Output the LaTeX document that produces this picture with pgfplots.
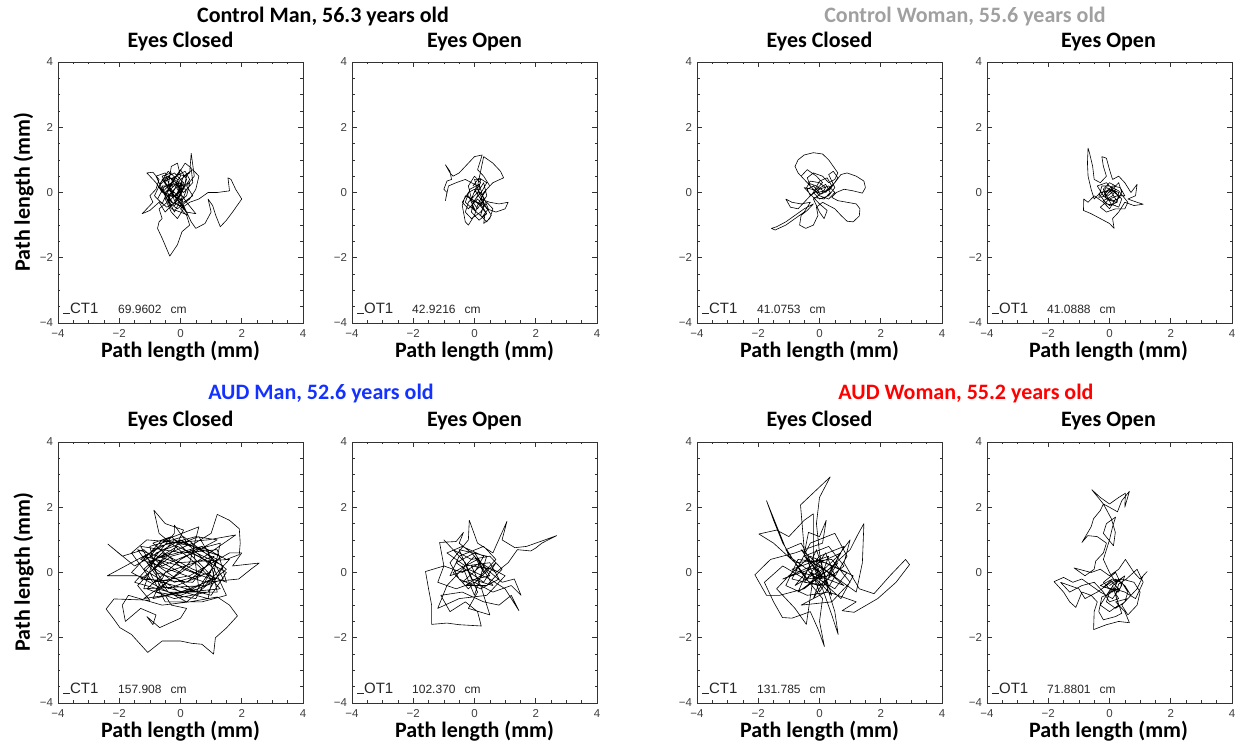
\documentclass[border=0pt]{standalone}
\usepackage{fontspec}
\setmainfont{Carlito}
\newfontfamily\tickfont{Liberation Sans}
\usepackage{pgfplots}
\pgfplotsset{compat=1.18}
\definecolor{ttgray}{RGB}{160,160,160}
\definecolor{ttblue}{RGB}{20,50,255}
\definecolor{ttred}{RGB}{255,0,0}
\pgfplotsset{panel/.style={
  scale only axis, width=245pt, height=261pt, anchor=south west,
  xmin=-4, xmax=4, ymin=-4, ymax=4,
  xtick={-4,-2,0,2,4}, ytick={-4,-2,0,2,4},
  xticklabels={−4,−2,0,2,4}, yticklabels={−4,−2,0,2,4},
  minor tick num=3, tick align=inside,
  major tick length=5pt, minor tick length=2.5pt,
  axis line style={line width=0.9pt, black!80},
  every tick/.style={black!80, line width=0.6pt},
  tick label style={font=\tickfont\fontsize{11.5}{11.5}\selectfont, text=black!75},
  xticklabel style={yshift=-3pt},
  yticklabel style={xshift=-1.5pt},
},
trace/.style={black, line width=0.6pt, no marks, line join=round},
}
\newcommand{\leg}[2]{%
  \node[anchor=base west, font=\tickfont\fontsize{15}{15}\selectfont, text=black!85, inner sep=0pt] at (axis cs:-3.84,-3.72) {\rule{7pt}{0.6pt}#1};
  \node[anchor=base west, font=\tickfont\fontsize{12}{12}\selectfont, text=black!85, inner sep=0pt] at (axis cs:-2.04,-3.72) {#2\hspace{9pt}cm};}
\begin{document}
\begin{tikzpicture}
\path[use as bounding box] (0,0) rectangle (1235pt,747pt);
% ---------------- Panel 1: Control Man, Eyes Closed
\begin{axis}[panel, at={(58pt,424pt)}]
\addplot[trace] coordinates {
(-0.2,0.0) (-0.5,0.3) (-0.3,0.6) (-0.6,0.5) (-0.4,0.1) (-0.1,-0.2) (0.1,0.2) (-0.2,0.4) (-0.5,-0.1) (-0.3,-0.4) (0.0,-0.1) (0.2,0.4) (0.0,0.7) (-0.3,0.3) (-0.6,0.0) (-0.8,0.3) (-1.1,0.6) (-0.9,0.62) (-0.7,0.4) (-0.8,0.1) (-1.0,-0.1) (-0.9,-0.3) (-1.25,-0.65) (-1.0,-0.55) (-0.7,-0.3) (-0.5,-0.6) (-0.2,-0.3) (0.1,-0.5) (-0.1,-0.8) (-0.3,-0.6) (-0.5,-0.2) (-0.2,0.1) (0.0,0.4) (0.3,0.6) (0.35,1.2) (0.45,0.5) (0.2,0.2) (0.4,-0.1) (0.1,-0.3) (-0.2,-0.1) (-0.4,0.2) (-0.3,0.8) (-0.1,0.9) (0.0,0.5) (-0.2,0.2) (-0.6,0.2) (-0.4,-0.3) (-0.1,-0.5) (0.3,-0.2) (0.5,0.1) (0.6,0.5) (0.4,0.7) (0.1,0.5) (-0.1,0.0) (-0.3,-0.2) (-0.7,-0.5) (-0.6,-0.8) (-0.7,-0.9) (-0.75,-1.1) (-0.6,-1.4) (-0.35,-1.95) (-0.1,-1.6) (0.05,-1.2) (0.3,-1.0) (0.2,-0.7) (0.0,-0.5) (0.3,-0.3) (0.6,-0.2) (0.9,0.0) (1.2,0.0) (1.6,0.05) (1.55,0.45) (1.65,0.4) (1.8,0.1) (2.0,-0.2) (1.7,-0.6) (1.5,-0.85) (1.3,-1.05) (1.15,-0.7) (1.05,-0.4) (0.9,-0.2) (1.0,-0.6) (0.8,-0.95) (0.5,-1.1) (0.35,-0.9) (0.2,-0.6) (0.0,-0.3) (-0.3,0.0) (-0.6,0.4) (-0.2,0.6) (0.1,0.3) (-0.1,-0.1) (-0.4,-0.1) (-0.2,-0.4) (0.2,-0.1) (0.3,0.3) (0.0,0.2) (-0.4,0.5) (-0.7,0.2) (-0.5,-0.1) (-0.2,0.0) (0.0,-0.2) (0.2,-0.6) (0.5,-0.65) (0.2,-0.3) (-0.1,0.1) (-0.3,0.4) (-0.05,0.55) (0.2,0.5) (0.1,0.1) (-0.25,-0.15) (-0.45,0.0) (-0.15,0.25) (0.05,0.0) (-0.2,-0.25)
(-0.5,0.6) (-0.8,0.5) (-0.6,0.1) (-0.3,-0.5) (0.0,-0.6) (0.25,-0.7) (0.0,-0.35) (-0.35,0.05) (-0.55,0.35) (-0.25,0.45) (0.15,0.65) (0.3,0.4) (0.05,0.05) (-0.15,-0.3) (-0.45,-0.45) (-0.75,-0.2) (-0.55,0.15) (-0.2,0.35) (0.1,0.0) (0.4,0.3) (0.35,0.75) (0.15,0.9) (-0.05,0.6) (-0.35,0.2) (-0.6,-0.35) (-0.85,-0.1) (-0.65,0.3) (-0.4,0.65) (-0.1,0.4) (0.05,-0.15) (-0.2,-0.6) (-0.4,-0.2) (-0.15,0.15) (0.2,0.1) (0.0,-0.4) (-0.3,-0.3) (-0.5,0.0) (-0.25,0.25) (0.05,0.3) (-0.1,-0.05)
};
\leg{CT1}{69.9602}
\end{axis}
% ---------------- Panel 2: Control Man, Eyes Open
\begin{axis}[panel, at={(352pt,424pt)}]
\addplot[trace] coordinates {
(0.0,0.0) (0.2,0.3) (0.0,0.5) (-0.2,0.2) (-0.1,-0.2) (0.2,-0.4) (0.4,-0.1) (0.3,0.3) (0.1,0.0) (-0.2,-0.3) (-0.3,-0.6) (-0.1,-0.8) (0.2,-0.6) (0.4,-0.3) (0.6,-0.5) (0.5,-0.8) (0.3,-0.95) (0.35,-0.6) (0.1,-0.3) (-0.3,-0.1) (-0.4,-0.4) (-0.3,-0.9) (-0.2,-1.0) (0.0,-0.7) (0.1,-0.4) (0.3,0.0) (0.5,0.2) (0.3,0.5) (0.1,0.7) (0.2,1.0) (0.25,1.15) (0.0,1.1) (-0.3,0.8) (-0.5,0.6) (-0.7,0.5) (-0.8,0.6) (-0.95,0.85) (-0.8,0.65) (-0.75,0.4) (-0.9,0.35) (-1.0,0.1) (-0.9,0.0) (-0.95,-0.25) (-0.85,0.2) (-0.6,0.3) (-0.3,0.4) (-0.1,0.3) (0.1,0.2) (0.3,1.1) (0.6,0.9) (0.85,0.65) (0.95,0.45) (0.6,0.3) (0.4,0.1) (0.2,-0.2) (0.5,-0.3) (0.8,-0.35) (1.1,-0.3) (1.0,-0.5) (0.7,-0.6) (0.4,-0.5) (0.2,-0.2) (0.0,0.1) (-0.2,0.0) (-0.4,-0.3) (-0.2,-0.5) (0.1,-0.2) (0.3,-0.4) (0.2,-0.7) (0.4,-0.9) (0.55,-0.7) (0.35,-0.4) (0.1,0.1) (0.0,0.4) (0.2,0.4) (0.1,-0.1) (-0.1,-0.4) (0.05,-0.6)
(-0.2,-0.1) (0.1,-0.5) (0.3,-0.2) (0.15,0.25) (-0.15,0.1) (-0.3,-0.3) (0.0,-0.55) (0.25,-0.75) (0.45,-0.5) (0.3,-0.15) (0.05,0.15) (-0.1,-0.2) (0.2,-0.35) (0.4,-0.65) (0.15,-0.85) (-0.1,-0.6) (-0.05,-0.3) (0.25,0.05) (0.4,0.3) (0.15,0.45) (-0.05,0.2)
};
\leg{OT1}{42.9216}
\end{axis}
% ---------------- Panel 3: Control Woman, Eyes Closed
\begin{axis}[panel, at={(697pt,424pt)}]
\addplot[trace] coordinates {
(0.0,0.0) (-0.2,0.2) (-0.4,0.1) (-0.3,-0.1) (0.0,0.1) (0.3,0.2) (0.5,0.0) (0.3,-0.2) (0.0,-0.1) (-0.3,0.2) (-0.5,0.4) (-0.7,0.6) (-0.8,0.8) (-0.7,1.0) (-0.5,1.15) (-0.2,1.22) (0.1,1.18) (0.3,1.0) (0.45,0.8) (0.6,0.6) (0.5,0.4) (0.3,0.3) (0.1,0.5) (-0.2,0.6) (-0.4,0.45) (-0.3,0.2) (-0.1,0.0) (0.2,0.05) (0.5,0.3) (0.7,0.55) (0.9,0.6) (1.2,0.5) (1.45,0.35) (1.5,0.15) (1.4,-0.02) (1.1,0.05) (0.8,0.1) (0.55,0.0) (0.4,-0.15) (0.6,-0.25) (0.9,-0.3) (1.2,-0.35) (1.32,-0.5) (1.3,-0.72) (1.1,-0.9) (0.9,-0.88) (0.7,-0.7) (0.5,-0.5) (0.3,-0.4) (0.1,-0.3) (-0.1,-0.45) (-0.05,-0.7) (-0.2,-1.0) (-0.45,-1.1) (-0.65,-1.0) (-0.6,-0.7) (-0.4,-0.55) (-0.2,-0.35) (-0.5,-0.5) (-0.8,-0.7) (-1.1,-0.9) (-1.4,-1.05) (-1.57,-1.1) (-1.45,-1.15) (-1.1,-1.0) (-0.8,-0.8) (-0.5,-0.6) (-0.3,-0.3) (-0.6,-0.35) (-0.9,-0.3) (-1.1,-0.2) (-0.95,-0.45) (-0.7,-0.5) (-0.4,-0.2) (-0.1,0.1) (0.1,0.3) (-0.1,0.5) (-0.4,0.7) (-0.6,0.5) (-0.4,0.3) (-0.1,0.2) (0.2,0.0) (0.4,0.2) (0.25,0.45) (0.0,0.35) (-0.2,0.0) (0.0,-0.2) (0.3,-0.1) (0.5,0.15) (0.3,0.55) (0.45,0.65) (0.6,0.45) (0.35,0.1) (0.05,-0.05) (-0.25,0.1) (-0.5,0.15) (-0.3,-0.05) (0.0,-0.35) (0.25,-0.55) (0.15,-0.8) (0.0,-0.6) (-0.2,-0.2) (0.1,0.0)
(0.2,0.15) (0.0,0.3) (-0.3,0.35) (-0.45,0.1) (-0.2,-0.15) (0.15,-0.2) (0.35,0.0) (0.2,0.25) (-0.05,0.1)
};
\leg{CT1}{41.0753}
\end{axis}
% ---------------- Panel 4: Control Woman, Eyes Open
\begin{axis}[panel, at={(987pt,424pt)}]
\addplot[trace] coordinates {
(0.0,0.0) (0.2,0.2) (0.0,0.3) (-0.2,0.1) (-0.1,-0.2) (0.2,-0.3) (0.4,0.0) (0.3,0.3) (0.1,0.1) (-0.3,0.0) (-0.5,-0.2) (-0.6,0.1) (-0.7,0.5) (-0.72,0.9) (-0.7,1.36) (-0.65,1.2) (-0.55,0.8) (-0.5,0.4) (-0.3,0.3) (-0.1,0.5) (-0.2,0.8) (-0.25,1.1) (-0.1,1.05) (0.0,0.7) (0.1,0.4) (0.3,0.5) (0.5,0.3) (0.7,0.0) (0.9,0.25) (0.85,-0.1) (0.6,-0.2) (0.9,-0.3) (1.1,-0.36) (0.8,-0.4) (0.5,-0.3) (0.3,-0.6) (0.1,-0.8) (0.15,-1.1) (0.0,-0.95) (-0.3,-0.8) (-0.6,-0.65) (-0.85,-0.55) (-0.84,-0.2) (-0.7,-0.3) (-0.5,-0.1) (-0.2,-0.3) (0.0,-0.5) (0.2,-0.2) (0.0,0.1) (-0.2,-0.1) (-0.4,0.2) (-0.1,0.3) (0.2,0.0) (0.4,-0.2) (0.3,-0.45) (0.05,-0.35) (-0.15,0.0) (0.1,0.2) (0.35,0.15) (0.5,-0.1) (0.25,-0.1) (0.0,-0.2) (-0.3,-0.45) (-0.1,-0.6) (0.2,-0.5) (0.5,-0.5) (0.6,-0.3) (0.3,0.05) (0.0,0.2) (-0.25,0.2) (-0.35,-0.15) (-0.05,-0.1) (0.2,0.1)
(0.1,-0.1) (-0.2,-0.25) (0.0,-0.4) (0.25,-0.3) (0.3,0.0) (0.05,0.1) (-0.15,-0.15) (0.15,-0.25) (0.35,-0.15) (0.1,0.05) (-0.1,0.15) (-0.3,-0.1) (-0.1,-0.35) (0.2,-0.4)
};
\leg{OT1}{41.0888}
\end{axis}
% ---------------- Panel 5: AUD Man, Eyes Closed
\begin{axis}[panel, at={(58pt,44pt)}]
\addplot[trace] coordinates {
(0.0,0.0) (-1.0,0.5) (-0.5,1.0) (0.6,1.4) (0.3,0.3) (-0.8,-0.6) (0.5,-0.8) (1.2,0.4) (0.0,1.0) (-1.5,0.2) (-2.37,0.87) (-1.9,0.5) (-1.2,0.7) (-0.6,0.2) (0.4,0.6) (1.5,0.0) (1.0,-0.7) (-0.2,-0.4) (-1.4,-0.1) (-2.39,-0.1) (-1.6,0.3) (-0.4,0.9) (0.9,1.0) (1.8,1.15) (0.8,0.5) (-0.3,-0.2) (-1.2,-0.8) (0.2,-0.6) (1.3,-0.5) (0.6,0.2) (-0.7,1.2) (-0.87,1.91) (-0.5,1.5) (0.1,1.3) (-0.2,0.7) (-1.0,0.0) (-0.5,-0.9) (0.7,-0.9) (1.5,-0.7) (1.1,0.1) (0.2,0.9) (-1.1,1.0) (-1.6,0.6) (-0.9,-0.3) (0.3,-0.1) (1.6,0.6) (2.0,0.6) (1.7,0.2) (2.57,0.29) (2.3,0.1) (1.9,-0.2) (0.8,-0.3) (-0.4,0.1) (-1.3,0.4) (-0.7,0.8) (0.5,1.1) (1.2,1.0) (0.0,0.4) (-1.1,-0.5) (-0.2,-0.8) (0.9,-0.6) (1.4,0.2) (0.3,0.7) (-0.9,0.4) (-0.2,1.2) (-0.2,1.45) (0.3,0.8) (1.0,1.2) (1.2,1.78) (1.6,1.6) (1.92,1.34) (1.95,0.9) (1.92,0.55) (1.5,0.4) (0.7,0.8) (-0.5,0.5) (-1.4,-0.4) (-1.0,-0.85) (-2.17,-0.81) (-2.43,-1.12) (-2.2,-1.4) (-1.98,-1.69) (-1.6,-1.9) (-1.07,-2.45) (-0.6,-2.1) (0.0,-2.1) (0.36,-2.17) (0.7,-2.2) (1.08,-2.5) (1.14,-2.0) (1.5,-1.7) (1.86,-1.33) (1.6,-1.0) (1.2,-0.75) (0.3,-0.9) (-0.6,-1.0) (-1.7,-0.7) (-1.9,-1.0) (-1.8,-1.5) (-1.3,-1.1) (-0.8,-1.3) (-0.9,-1.6) (-1.1,-1.35) (-0.68,-1.69) (0.0,-1.4) (0.2,-1.1) (-0.3,-1.0) (-0.5,-0.7) (0.4,-0.5) (1.0,-0.2) (0.1,0.1) (-0.9,0.9) (-0.3,1.1) (0.6,0.3) (1.1,-0.2) (0.0,-0.6) (-1.2,0.1) (-0.6,0.6) (0.4,0.1) (1.5,-0.3) (1.2,0.7) (0.1,0.6) (-1.3,0.8) (-0.8,0.0) (0.2,-0.3) (1.0,0.3) (-0.1,0.8) (-1.0,0.3) (-0.4,-0.5) (0.7,-0.1) (0.0,0.2)
(-1.2,0.5) (0.5,-0.6) (1.3,0.5) (-0.2,1.0) (-1.5,-0.3) (0.0,-0.7) (1.4,-0.2) (0.6,1.1) (-0.8,0.6) (-1.2,-0.5) (0.8,-0.4) (1.6,0.4) (-0.1,0.3) (-1.4,0.7) (-0.4,-0.6) (1.2,-0.6) (0.9,0.7) (-0.6,1.0) (-1.6,0.0) (0.2,-0.9) (1.5,0.1) (0.1,1.1) (-1.0,0.8) (-0.7,-0.4) (0.9,-0.8) (1.3,0.9) (-0.3,0.5) (-1.3,-0.2) (0.4,-0.3) (1.1,0.5) (-0.5,0.0) (-0.9,-0.8) (0.6,-0.5) (0.4,0.9) (-1.1,0.3) (-0.2,-0.3) (1.0,0.0)
};
\leg{CT1}{157.908}
\end{axis}
% ---------------- Panel 6: AUD Man, Eyes Open
\begin{axis}[panel, at={(352pt,44pt)}]
\addplot[trace] coordinates {
(0.0,0.0) (0.3,0.5) (-0.4,0.8) (-0.9,0.6) (-0.3,0.2) (0.5,0.3) (0.8,-0.2) (0.2,-0.5) (-0.5,-0.2) (-0.8,0.3) (-0.2,1.0) (-0.17,1.6) (0.1,0.9) (0.6,0.6) (1.06,1.57) (0.9,1.0) (1.32,0.76) (1.7,0.8) (2.0,0.9) (2.3,1.0) (2.68,1.13) (2.2,0.9) (2.0,0.75) (1.84,0.66) (1.4,0.7) (1.1,0.3) (0.7,0.0) (0.2,0.3) (-0.4,0.0) (-1.0,0.2) (-1.14,0.92) (-0.6,0.95) (-0.36,1.23) (-0.5,0.9) (-0.1,0.6) (0.4,0.1) (0.9,-0.3) (1.3,-0.2) (1.52,-0.7) (1.2,-0.4) (0.6,-0.6) (0.0,-0.3) (-0.6,-0.5) (-1.2,-0.3) (-1.0,0.2) (-1.6,0.03) (-1.5,-0.5) (-1.4,-1.0) (-1.4,-1.59) (-0.9,-1.55) (-0.5,-1.6) (0.22,-1.64) (0.1,-1.2) (-0.3,-0.9) (-0.8,-1.2) (-1.1,-0.7) (-0.4,-0.6) (0.3,-0.9) (0.8,-1.0) (1.2,-0.7) (1.45,-1.17) (1.0,-0.5) (0.5,-0.2) (-0.2,0.1) (-0.8,-0.1) (-0.5,0.5) (0.3,0.8) (0.7,0.4) (0.2,-0.1) (-0.3,-0.4) (0.4,-0.4) (0.9,0.1) (0.5,0.5) (-0.1,0.4) (-0.7,0.7) (-1.0,1.0) (-0.3,0.3) (0.1,-0.6) (-0.2,-1.1) (0.5,-1.3) (0.2,-0.4) (-0.1,0.2) (0.6,0.1) (1.0,-0.1) (0.4,-0.7) (-0.5,-0.8) (-1.2,-1.1) (-0.9,-0.4) (0.0,0.5) (0.3,0.0)
(0.2,0.2) (-0.4,-0.3) (0.5,-0.1) (0.0,0.6) (-0.6,0.3) (0.3,-0.3) (0.7,0.3) (-0.2,-0.5) (-0.7,0.0) (0.1,0.4) (0.6,-0.4) (-0.1,-0.2) (-0.5,0.7) (0.4,0.5) (0.0,-0.7) (-0.4,0.2)
};
\leg{OT1}{102.370}
\end{axis}
% ---------------- Panel 7: AUD Woman, Eyes Closed
\begin{axis}[panel, at={(697pt,44pt)}]
\addplot[trace] coordinates {
(0.0,0.0) (-0.5,0.5) (0.3,0.8) (0.8,0.2) (0.0,-0.4) (-0.9,-0.2) (-0.3,0.9) (0.5,1.2) (0.9,0.5) (0.2,-0.6) (-0.6,-1.0) (0.4,-0.9) (1.0,-0.3) (0.4,0.4) (-0.8,0.3) (-1.5,0.9) (-1.98,1.18) (-1.4,1.3) (-1.0,1.1) (-0.5,1.6) (-0.2,1.8) (-0.2,0.3) (0.6,-0.2) (1.2,-0.6) (1.4,0.3) (1.45,1.5) (1.26,1.18) (1.0,0.7) (0.3,0.1) (-0.5,-0.5) (-1.3,-0.7) (-1.73,-0.7) (-2.11,-0.07) (-1.6,0.4) (-0.8,0.6) (0.1,0.9) (0.22,1.6) (0.0,1.1) (-0.36,1.23) (-0.49,0.61) (-0.62,2.07) (0.35,2.93) (0.0,2.3) (-0.1,1.5) (0.0,0.6) (0.2,-0.3) (0.5,-1.2) (0.61,-1.9) (0.4,-1.3) (0.1,-0.5) (-0.4,0.1) (-1.0,0.5) (-1.73,2.2) (-1.5,1.6) (-1.2,0.9) (-0.6,0.0) (0.1,-0.8) (0.0,-1.5) (0.16,-2.27) (-0.04,-1.75) (-0.3,-1.2) (-0.9,-1.4) (-1.21,-1.38) (-1.5,-0.9) (-1.8,-0.3) (-1.2,0.2) (-0.3,-0.3) (0.6,0.5) (1.0,1.0) (0.8,0.3) (1.3,-0.5) (1.78,-0.65) (2.3,-0.1) (2.81,0.4) (2.94,0.24) (2.5,-0.3) (1.9,-0.8) (1.13,-1.22) (0.74,-1.17) (1.2,-0.9) (0.3,-0.6) (-0.4,-0.7) (-1.1,-0.4) (-0.7,0.4) (0.2,0.3) (0.9,0.0) (0.5,-0.5) (-0.2,-0.1) (-0.43,-1.59) (-0.8,-1.1) (-1.4,-0.5) (-1.0,-0.1) (-0.3,0.5) (0.4,0.2) (1.1,-0.1) (0.7,-0.8) (0.0,-0.2) (-0.6,0.9) (-1.1,0.7) (-0.4,-0.2) (0.3,-0.1) (0.8,0.8) (0.0,0.5) (-0.8,-0.4) (0.1,0.1)
(-0.2,0.3) (0.3,-0.4) (-0.5,-0.3) (0.2,0.6) (0.5,-0.1) (-0.4,0.4) (0.0,-0.6) (0.6,0.3) (-0.7,-0.6) (-0.1,0.7) (0.4,-0.7) (-0.3,0.0) (0.8,-0.4) (-0.6,0.7) (0.1,-0.2) (-0.9,0.1) (0.3,0.5) (-0.2,-0.8) (0.7,0.6) (-1.2,-0.2) (0.0,0.2) (-0.1,-0.1) (0.2,0.0)
};
\leg{CT1}{131.785}
\end{axis}
% ---------------- Panel 8: AUD Woman, Eyes Open
\begin{axis}[panel, at={(987pt,44pt)}]
\addplot[trace] coordinates {
(0.0,-0.4) (0.3,-0.2) (0.1,-0.6) (-0.2,-0.3) (0.2,0.0) (0.4,-0.4) (0.1,-0.8) (-0.3,-0.6) (-0.6,-0.4) (-0.9,-0.2) (-1.2,-0.3) (-1.5,-0.15) (-1.81,-0.28) (-1.5,-0.6) (-1.3,-0.9) (-1.1,-1.07) (-0.9,-0.6) (-0.6,-0.7) (-0.4,-0.9) (-0.5,-1.2) (-0.52,-1.75) (-0.1,-1.6) (0.3,-1.5) (0.65,-1.54) (0.5,-1.2) (0.2,-0.9) (0.6,-0.8) (0.9,-0.5) (1.1,-0.1) (1.23,0.03) (1.0,-0.2) (0.8,0.0) (0.52,0.4) (0.3,0.1) (0.0,-0.1) (-0.3,0.1) (-0.6,0.0) (-1.16,0.14) (-0.8,-0.1) (-0.5,0.1) (-0.45,0.35) (-0.2,0.6) (-0.1,0.9) (-0.4,1.1) (-0.71,1.13) (-0.9,0.92) (-0.6,1.4) (-0.52,1.65) (-0.3,1.9) (-0.2,2.1) (0.0,2.0) (0.26,1.86) (0.4,2.2) (0.65,2.49) (0.5,2.0) (0.52,2.43) (0.3,2.3) (0.0,2.1) (-0.3,2.3) (-0.58,2.54) (-0.2,2.1) (0.06,1.65) (0.19,1.23) (0.13,0.82) (-0.2,1.2) (-0.1,1.5) (0.2,1.7) (0.1,1.4) (0.0,1.0) (-0.2,0.4) (0.0,0.0) (0.2,-0.3) (0.5,-0.1) (0.3,-0.6) (0.0,-0.5) (-0.3,-0.4) (0.1,-0.2) (0.4,-0.3) (0.6,-0.6) (0.5,-0.9) (0.2,-1.1) (-0.1,-0.9) (0.0,-0.6) (0.3,-0.5) (0.15,-0.35) (-0.1,-0.7) (-0.3,-1.0) (0.0,-1.2) (0.3,-1.0) (0.1,-0.4)
(0.4,-0.2) (0.8,-0.3) (1.0,-0.6) (0.9,-1.0) (0.6,-1.3) (0.4,-1.0) (0.7,-0.7) (0.5,-0.4) (0.2,-0.2) (-0.1,-0.4) (-0.4,-0.6) (-0.8,-0.8) (-1.0,-0.5) (-1.3,-0.4) (-1.6,-0.3) (-1.3,-0.6) (-0.9,-0.4) (-0.5,-0.3) (-0.2,-0.6) (0.0,-0.9) (0.3,-0.8) (0.1,-0.5) (-0.2,-0.45) (0.05,-0.25) (0.25,-0.45) (0.0,-0.65) (-0.25,-0.75) (-0.35,-1.2) (-0.2,-1.45) (0.2,-1.35) (0.4,-1.25) (0.2,-0.7) (0.3,-0.35) (0.55,-0.2) (0.9,0.1) (1.1,-0.3) (0.85,-0.8) (0.5,-0.6) (0.15,-0.5)
};
\leg{OT1}{71.8801}
\end{axis}
% ---------------- Texts
\begin{scope}[every node/.style={font=\bfseries\fontsize{22}{26}\selectfont, anchor=base, inner sep=0pt}]
\node at (323pt,724pt) {Control Man, 56.3 years old};
\node[text=ttgray] at (965pt,724pt) {Control Woman, 55.6 years old};
\node at (180.5pt,699pt) {Eyes Closed};
\node at (474.5pt,699pt) {Eyes Open};
\node at (819.5pt,699pt) {Eyes Closed};
\node at (1108.5pt,699pt) {Eyes Open};
\node at (180.5pt,389pt) {Path length (mm)};
\node at (474.5pt,389pt) {Path length (mm)};
\node at (819.5pt,389pt) {Path length (mm)};
\node at (1108.5pt,389pt) {Path length (mm)};
\node[text=ttblue] at (321pt,347pt) {AUD Man, 52.6 years old};
\node[text=ttred] at (966pt,347pt) {AUD Woman, 55.2 years old};
\node at (180.5pt,320pt) {Eyes Closed};
\node at (474.5pt,320pt) {Eyes Open};
\node at (819.5pt,320pt) {Eyes Closed};
\node at (1108.5pt,320pt) {Eyes Open};
\node at (180.5pt,9pt) {Path length (mm)};
\node at (474.5pt,9pt) {Path length (mm)};
\node at (819.5pt,9pt) {Path length (mm)};
\node at (1108.5pt,9pt) {Path length (mm)};
\node[rotate=90] at (30pt,555pt) {Path length (mm)};
\node[rotate=90] at (30pt,175pt) {Path length (mm)};
\end{scope}
\end{tikzpicture}
\end{document}
